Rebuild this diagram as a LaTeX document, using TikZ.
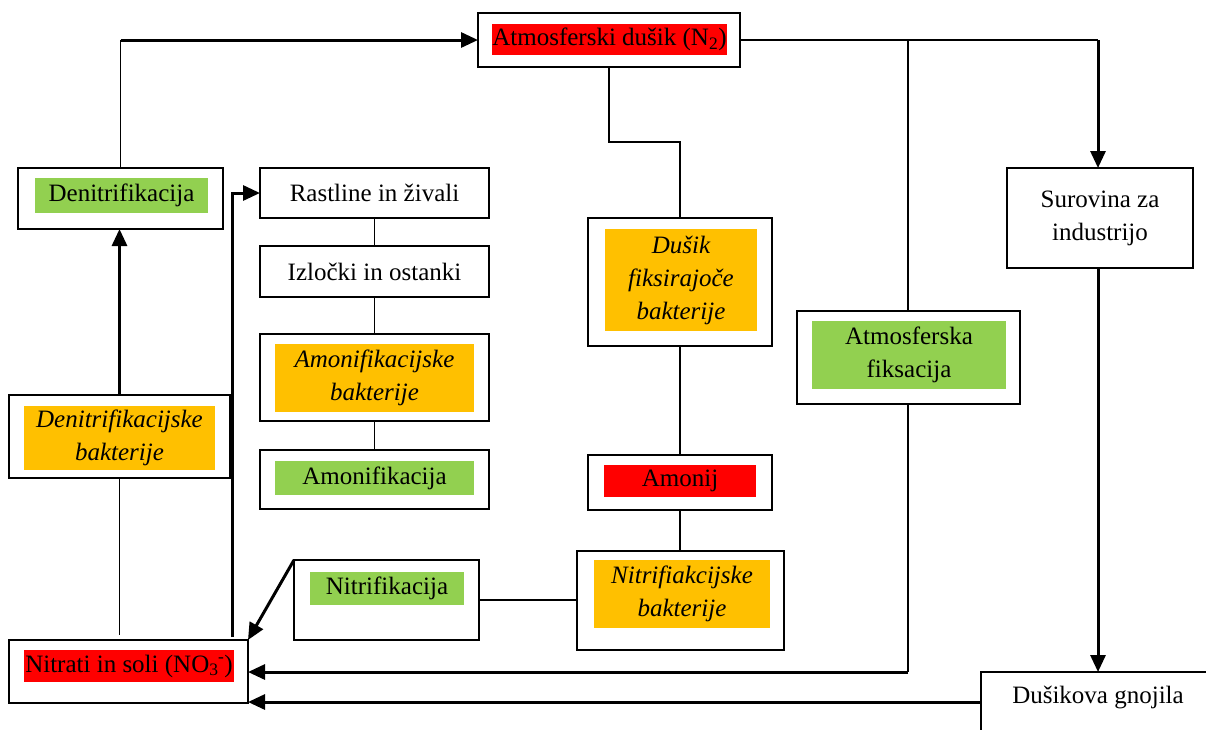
\documentclass[tikz,border=0pt]{standalone}
\usepackage{fontspec}
\setmainfont{Liberation Serif}
\usetikzlibrary{arrows.meta}
\definecolor{cred}{HTML}{FF0000}
\definecolor{corange}{HTML}{FFC000}
\definecolor{cgreen}{HTML}{92D050}
\newcommand\dfont{\fontsize{25}{33}\selectfont}
\tikzset{
  box/.style={draw, line width=1.3pt, inner sep=0pt, outer sep=0pt},
  fbox/.style={inner sep=0pt, outer sep=0pt, align=center, font=\dfont},
  txt/.style={inner sep=0pt, outer sep=0pt, align=center, font=\dfont},
  thinln/.style={line width=1.3pt},
  thickarr/.style={line width=3pt, -{Triangle[length=17pt,width=15pt]}},
}
\begin{document}
\begin{tikzpicture}[x=1pt,y=-1pt]
\useasboundingbox (0,0) rectangle (1206,729);
\clip (0,0) rectangle (1206,729);
\fill[white] (0,0) rectangle (1206,729);

% Atmosferski dusik
\node[box, minimum width=262pt, minimum height=54pt] (atm) at (609,40) {};
\node[fbox, fill=cred, minimum width=229pt, minimum height=31pt] (atmt) at (609.5,39.5) {Atmosferski dušik (N\textsubscript{2})};

% Denitrifikacija
\node[box, minimum width=205pt, minimum height=61pt] (denit) at (120.5,198.5) {};
\node[fbox, fill=cgreen, minimum width=173pt, minimum height=35pt] (denitt) at (121.5,195.5) {Denitrifikacija};

% Denitrifikacijske bakterije
\node[box, minimum width=221pt, minimum height=83pt] (denitb) at (119.5,436.5) {};
\node[fbox, fill=corange, minimum width=191pt, minimum height=64pt] (denitbt) at (119.5,438) {\itshape Denitrifikacijske\\\itshape bakterije};

% Nitrati in soli
\node[box, minimum width=239pt, minimum height=63pt] (nitr) at (128.5,671.5) {};
\node[fbox, fill=cred, minimum width=210pt, minimum height=32pt] (nitrt) at (129,666) {Nitrati in soli (NO\textsubscript{3}\kern-0.5pt\textsuperscript{-})};

% Central column
\node[box, minimum width=229pt, minimum height=50pt] (rast) at (374.5,193) {};
\node[txt] (rastt) at (374.5,193) {Rastline in živali};
\node[box, minimum width=229pt, minimum height=51pt] (izl) at (374.5,271.5) {};
\node[txt] (izlt) at (374.5,271.5) {Izločki in ostanki};
\node[box, minimum width=229pt, minimum height=87pt] (amb) at (374.5,377.5) {};
\node[fbox, fill=corange, minimum width=199pt, minimum height=68pt] (ambt) at (374.5,378) {\itshape Amonifikacijske\\\itshape bakterije};
\node[box, minimum width=229pt, minimum height=59pt] (amf) at (374.5,479.5) {};
\node[fbox, fill=cgreen, minimum width=199pt, minimum height=34pt] (amft) at (374.5,478) {Amonifikacija};

% Right-centre column
\node[box, minimum width=184pt, minimum height=128pt] (dfb) at (680,282) {};
\node[fbox, fill=corange, minimum width=152pt, minimum height=102pt] (dfbt) at (681,280) {\itshape Dušik\\\itshape fiksirajoče\\\itshape bakterije};
\node[box, minimum width=184pt, minimum height=55pt] (amonij) at (680,482.5) {};
\node[fbox, fill=cred, minimum width=152pt, minimum height=32pt] (amonijt) at (680,481) {Amonij};
\node[box, minimum width=207pt, minimum height=99pt] (nfb) at (680.5,600.5) {};
\node[fbox, fill=corange, minimum width=176pt, minimum height=68pt] (nfbt) at (682,594) {\itshape Nitrifiakcijske\\\itshape bakterije};
\node[box, minimum width=185pt, minimum height=80pt] (nf) at (386.5,600) {};
\node[fbox, fill=cgreen, minimum width=154pt, minimum height=33pt] (nft) at (387,588.5) {Nitrifikacija};

% Atmosferska fiksacija
\node[box, minimum width=223pt, minimum height=93pt] (af) at (908.5,357.5) {};
\node[fbox, fill=cgreen, minimum width=194pt, minimum height=68pt] (aft) at (909,355) {Atmosferska\\fiksacija};

% Surovina
\node[box, minimum width=186pt, minimum height=100pt] (sur) at (1100,218) {};
\node[txt] (surt) at (1100,218) {Surovina za\\industrijo};

% Dusikova gnojila
\node[box, anchor=north west, minimum width=260pt, minimum height=100pt] (dg) at (981,672) {};
\node[txt] (dgt) at (1098,697) {Dušikova gnojila};

% Connectors
\draw[thinln] (denit.north) -- (denit.north |- atm.west);
\draw[thickarr] (denit.north |- atm.west) -- (atm.west);
\draw[thickarr] (denitb.north) -- (denitb.north |- denit.south);
\coordinate (n1) at (120,635);
\draw[thinln] (denitb.south) -- (denitb.south |- n1);
\coordinate (n2) at (232,637);
\draw[thickarr] (n2) |- (rast.west);
\draw[thinln] (rast.south) -- (izl.north) (izl.south) -- (amb.north) (amb.south) -- (amf.north);
\coordinate (a1) at (609,142);
\draw[thinln] (atm.south) -- (a1) -| (dfb.north);
\draw[thinln] (dfb.south) -- (amonij.north) (amonij.south) -- (amonij.south |- nfb.north);
\draw[thinln] (nf.east) -- (nf.east -| nfb.west);
\draw[thickarr] (nf.north west) -- (nitr.north east);
\coordinate (r1) at (1098,40);
\draw[thinln] (atm.east) -- (r1);
\draw[thickarr] (r1) -- (r1 |- sur.north);
\coordinate (m1) at (908,40);
\coordinate (m2) at (908,672);
\draw[thinln] (m1) -- (m1 |- af.north);
\draw[thinln] (m1 |- af.south) -- (m2);
\draw[thickarr] (m2) -- (m2 -| nitr.east);
\draw[thickarr] (r1 |- sur.south) -- (r1 |- dg.north);
\coordinate (d1) at (981,702);
\draw[thickarr] (d1) -- (d1 -| nitr.east);
\end{tikzpicture}
\end{document}
